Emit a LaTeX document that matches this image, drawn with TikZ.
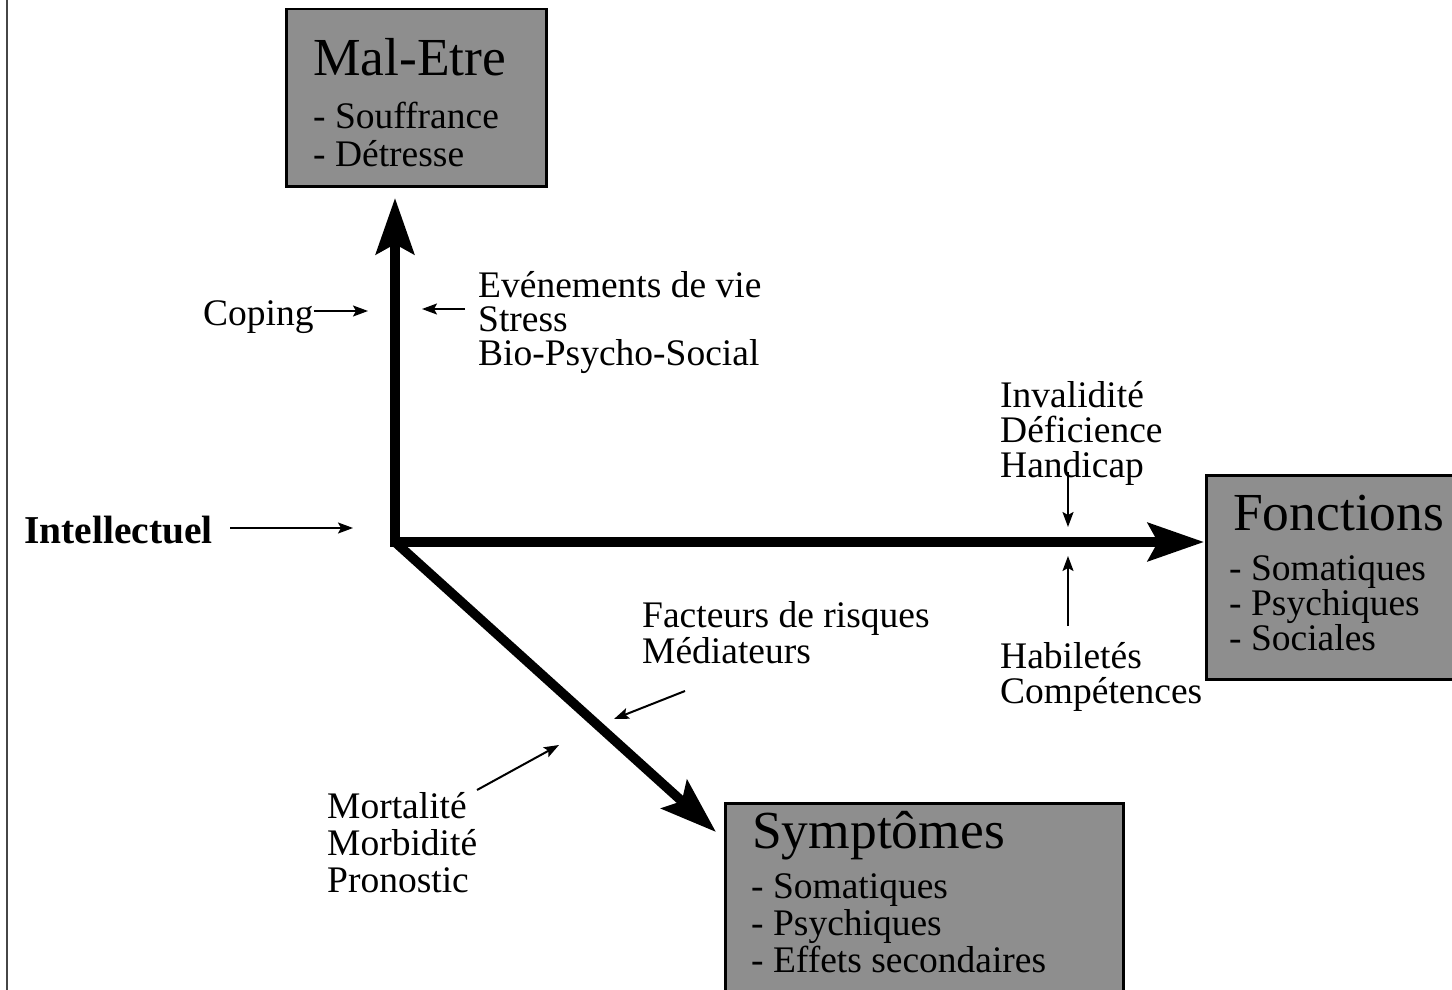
\documentclass[tikz,border=0pt]{standalone}
\usepackage{fontspec}
\setmainfont{Liberation Serif}
\usetikzlibrary{arrows.meta}
\definecolor{boxgray}{RGB}{142,142,142}
\definecolor{edgegray}{RGB}{70,70,70}
\tikzset{
  gbox/.style={draw=black, line width=2.5pt, fill=boxgray, anchor=north west, inner sep=0pt},
  bigarrow/.style={line width=9.5pt, -{Stealth[length=56pt, width=38pt, inset=10pt]}},
  thinarrow/.style={line width=2pt, -{Stealth[length=15pt, width=11pt, inset=3pt]}},
  lbl/.style={anchor=base west, align=left, inner sep=0pt, font=\fontsize{37.5}{34}\selectfont},
  ttl/.style={anchor=base west, inner sep=0pt, font=\fontsize{53.5}{53}\selectfont},
  itm/.style={anchor=base west, align=left, inner sep=0pt, font=\fontsize{37.5}{37}\selectfont}
}
\begin{document}
\begin{tikzpicture}[x=1pt, y=-1pt]
\useasboundingbox (0,0) rectangle (1452,990);
\clip (0,0) rectangle (1452,990);
\fill[white] (0,0) rectangle (1452,990);
\draw[edgegray, line width=2.5pt] (7,-5) -- (7,995);

% boxes (anchor base of multi-line text = last line)
\node[gbox, minimum width=260pt, minimum height=177pt] (male) at (285,8) {};
\node[ttl] (maletitle) at (313,76) {Mal-Etre};
\node[itm, font=\fontsize{37.5}{38}\selectfont] (maleitems) at (313,166) {- Souffrance\\- Détresse};

\node[gbox, minimum width=280pt, minimum height=204pt] (fonc) at (1205,474) {};
\node[ttl] (fonctitle) at (1233,530) {Fonctions};
\node[itm, font=\fontsize{37.5}{35}\selectfont] (foncitems) at (1229,650) {- Somatiques\\- Psychiques\\- Sociales};

\node[gbox, minimum width=398pt, minimum height=220pt] (symp) at (724,802) {};
\node[ttl] (symptitle) at (752,848) {Symptômes};
\node[itm] (sympitems) at (751,972) {- Somatiques\\- Psychiques\\- Effets secondaires};

% main axes
\coordinate (o) at (395,542);
\coordinate (tipup) at (395,198);
\coordinate (tipright) at (1204,542);
\coordinate (tipdiag) at (716,832);
\draw[bigarrow] (395,546.75) -- (tipup);
\draw[bigarrow] (390.25,542) -- (tipright);
\draw[bigarrow] (o) -- (tipdiag);

% labels
\node[lbl] (coping) at (203,325) {Coping};
\coordinate (copingend) at (368,311);
\draw[thinarrow] (coping.east |- copingend) -- (copingend);

\node[lbl] (events) at (478,365) {Evénements de vie\\Stress\\Bio-Psycho-Social};
\coordinate (eventsstart) at (465,309);
\coordinate (eventsend) at (422,309);
\draw[thinarrow] (eventsstart) -- (eventsend);

\node[lbl, font=\bfseries\fontsize{39.5}{34}\selectfont] (intel) at (24,543) {Intellectuel};
\coordinate (intelstart) at (230,528);
\coordinate (intelend) at (353,528);
\draw[thinarrow] (intelstart) -- (intelend);

\node[lbl, font=\fontsize{37.5}{35}\selectfont] (inval) at (1000,477) {Invalidité\\Déficience\\Handicap};
\coordinate (invalstart) at (1068,472);
\coordinate (invalend) at (1068,527);
\draw[thinarrow] (invalstart) -- (invalend);

\node[lbl, font=\fontsize{37.5}{35}\selectfont] (habil) at (1000,703) {Habiletés\\Compétences};
\coordinate (habilstart) at (1068,626);
\coordinate (habilend) at (1068,556);
\draw[thinarrow] (habilstart) -- (habilend);

\node[lbl, font=\fontsize{37.5}{36}\selectfont] (facteurs) at (642,663) {Facteurs de risques\\Médiateurs};
\coordinate (factstart) at (685,691);
\coordinate (factend) at (614,719);
\draw[thinarrow] (factstart) -- (factend);

\node[lbl, font=\fontsize{37.5}{37}\selectfont] (mort) at (327,892) {Mortalité\\Morbidité\\Pronostic};
\coordinate (mortstart) at (477,790);
\coordinate (mortend) at (559,745);
\draw[thinarrow] (mortstart) -- (mortend);
\end{tikzpicture}
\end{document}
